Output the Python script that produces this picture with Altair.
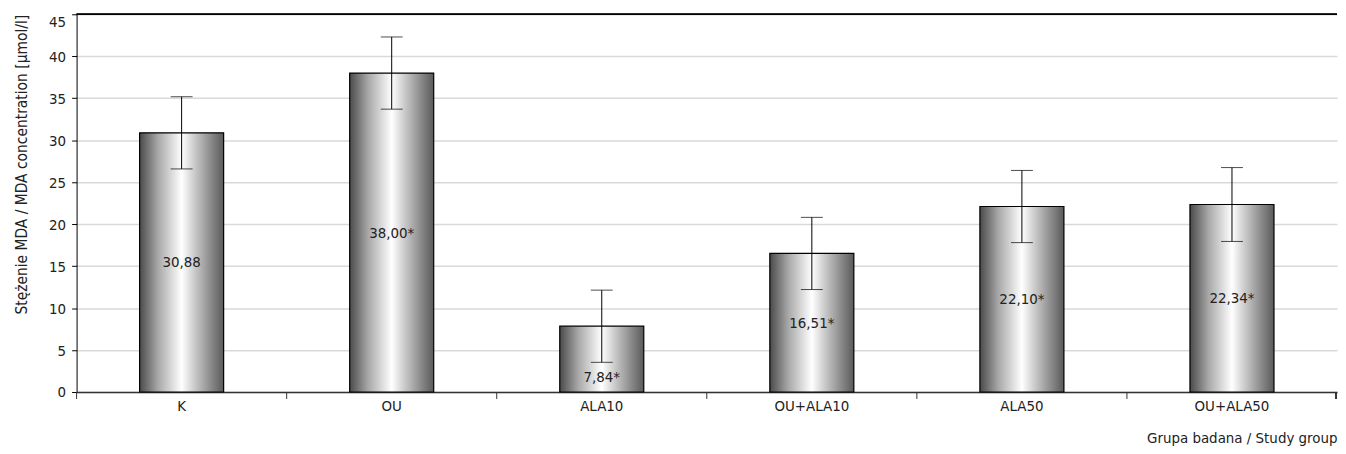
import altair as alt
import pandas as pd

groups = ["K", "OU", "ALA10", "OU+ALA10", "ALA50", "OU+ALA50"]
means = [30.88, 38.00, 7.84, 16.51, 22.10, 22.34]
errs = [4.3, 4.3, 4.3, 4.3, 4.3, 4.4]
labels = ["30,88", "38,00*", "7,84*", "16,51*", "22,10*", "22,34*"]

df = pd.DataFrame({"group": groups, "mean": means, "err": errs, "label": labels})
df["lo"] = df["mean"] - df["err"]
df["hi"] = df["mean"] + df["err"]
df["ly"] = [m / 2 if m / 2 < m - e else (m - e) / 2 for m, e in zip(means, errs)]

W, H = 1268, 380
FONT = "'DejaVu Sans Condensed', 'Liberation Sans Narrow', 'Roboto Condensed', Roboto, sans-serif"

xenc = alt.X("group:N", sort=groups, scale=alt.Scale(paddingInner=0, paddingOuter=0),
             axis=alt.Axis(title="Grupa badana / Study group", labelAngle=0, ticks=False,
                           labelPadding=7, titleAnchor="end", titleAlign="right",
                           titleX=W, titleY=46, titleBaseline="middle",
                           domainColor="#333", domainWidth=1.5))
yscale = alt.Scale(domain=[0, 45])
yaxis = alt.Axis(title="Stężenie MDA / MDA concentration [µmol/l]", values=list(range(0, 46, 5)),
                 grid=True, gridColor="#d9d9d9", gridWidth=1.5, domainColor="#000",
                 tickColor="#000", tickSize=5, labelPadding=6, titlePadding=19,
                 titleAnchor="end", titleFontSize=15.5,
                 labelBaseline=alt.ExprRef("datum.value == 45 ? 'top' : 'middle'"))

grad = alt.LinearGradient(
    gradient="linear",
    stops=[alt.GradientStop(color="#4a4a4a", offset=0),
           alt.GradientStop(color="#a8a8a8", offset=0.22),
           alt.GradientStop(color="#e6e6e6", offset=0.42),
           alt.GradientStop(color="#ffffff", offset=0.5),
           alt.GradientStop(color="#c8c8c8", offset=0.66),
           alt.GradientStop(color="#8a8a8a", offset=0.85),
           alt.GradientStop(color="#5a5a5a", offset=1)],
    x1=0, x2=1, y1=0, y2=0)

base = alt.Chart(df)
bars = base.mark_bar(color=grad, stroke="#000", strokeWidth=1.2,
                     width=alt.RelativeBandSize(0.4)).encode(
    x=xenc, y=alt.Y("mean:Q", scale=yscale, axis=yaxis))
rules = base.mark_rule(color="#000", strokeWidth=1).encode(
    x=alt.X("group:N", sort=groups), y="lo:Q", y2="hi:Q")
cap_lo = base.mark_tick(color="#000", size=22, thickness=1, orient="horizontal").encode(
    x=alt.X("group:N", sort=groups), y="lo:Q")
cap_hi = base.mark_tick(color="#000", size=22, thickness=1, orient="horizontal").encode(
    x=alt.X("group:N", sort=groups), y="hi:Q")
text = base.mark_text(font=FONT, fontSize=15, color="#222").encode(
    x=alt.X("group:N", sort=groups), y="ly:Q", text="label:N")
xticks = base.mark_rule(color="#333", strokeWidth=1).encode(
    x=alt.X("group:N", sort=groups, bandPosition=0), y=alt.value(H), y2=alt.value(H + 7))
end_tick = base.mark_rule(color="#333", strokeWidth=1).encode(
    x=alt.value(W - 1), y=alt.value(H), y2=alt.value(H + 7))
top_line = base.mark_rule(color="#000", strokeWidth=1.3).encode(
    x=alt.value(0), x2=alt.value(W), y=alt.value(0))

chart = alt.layer(bars, rules, cap_lo, cap_hi, text, xticks, end_tick, top_line).properties(
    width=W, height=H, autosize=alt.AutoSizeParams(type="none"),
    padding={"left": 69, "top": 5, "right": 1, "bottom": 60}
).configure_view(stroke=None).configure_axis(
    labelFont=FONT, titleFont=FONT, labelFontSize=15, titleFontSize=15,
    labelColor="#222", titleColor="#222", titleFontWeight="normal"
)

chart.save("out.html", embed_options={"renderer": "svg", "actions": False})
